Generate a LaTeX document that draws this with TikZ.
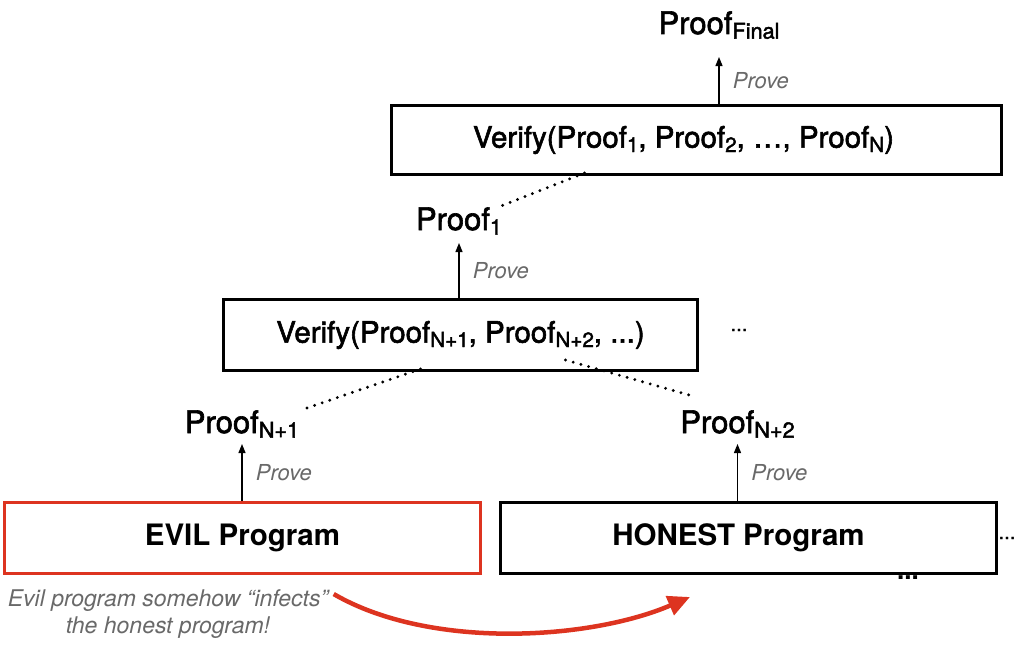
\documentclass[tikz,border=0pt]{standalone}
\usepackage{fontspec}
\setmainfont{TeX Gyre Heros}
\newfontfamily\medfont[FakeBold=2]{TeX Gyre Heros}
\usetikzlibrary{arrows.meta,positioning}
\definecolor{evilred}{RGB}{221,52,32}
\definecolor{notegray}{RGB}{105,105,105}
\newcommand{\idx}[1]{\raisebox{-0.15em}{\scalebox{0.7}{#1}}}

\begin{document}
\begin{tikzpicture}[x=1pt,y=-1pt,
	proof/.style={anchor=base, font=\fontsize{31}{36}\medfont},
	verify/.style={draw, line width=3pt, inner sep=0pt, font=\fontsize{29.5}{34}\medfont},
	program/.style={draw, line width=3pt, inner sep=0pt, minimum height=71pt, font=\fontsize{29.5}{34}\selectfont\bfseries},
	prove/.style={-{Triangle[length=9pt,width=7pt]}, line width=1.2pt},
	provelbl/.style={right=10pt, font=\fontsize{22}{26}\selectfont\itshape, text=notegray},
	link/.style={line width=3.2pt, dash pattern=on 0pt off 8pt, line cap=round},
	more/.style={font=\fontsize{20}{24}\medfont}]
	\useasboundingbox (0,0) rectangle (1023,645);

	% boxes
	\node[verify, minimum width=610pt, minimum height=69pt] (vtop) at (696.5,140)
		{\hspace*{-26pt}Verify(Proof\idx{1}, Proof\idx{2}, \dots, Proof\idx{N})};
	\node[verify, minimum width=474pt, minimum height=71pt] (vmid) at (460.5,335)
		{Verify(Proof\idx{N+1}, Proof\idx{N+2}, ...)};
	\node[program, draw=evilred, minimum width=476pt] (evil) at (242.5,538) {EVIL Program};
	\node[program, minimum width=496pt] (honest) at (748.5,538) {\hspace*{-20pt}HONEST Program};

	% proofs
	\node[proof] (pfinal) at (719,34)  {Proof\idx{Final}};
	\node[proof] (proof1) at (459,230) {Proof\idx{1}};
	\node[proof] (pn1)    at (242,433) {Proof\idx{N+1}};
	\node[proof] (pn2)    at (737.5,433) {Proof\idx{N+2}};

	% dots
	\node[more] (more1) at (739,330) {...};
	\node[more] (more2) at (1007,538) {...};
	\node[more, font=\fontsize{26}{30}\selectfont\bfseries] (more3) at (908,578) {...};

	% prove arrows
	\draw[prove] (vtop.north -| pfinal) -- ++(0,-47) node[midway, provelbl] {Prove};
	\draw[prove] (vmid.north -| proof1) -- ++(0,-55) node[midway, provelbl] {Prove};
	\draw[prove] (evil.north -| pn1) -- ++(0,-57) node[midway, provelbl] {Prove};
	\draw[prove] (honest.north -| pn2) -- ++(0,-57) node[midway, provelbl] {Prove};

	% links
	\draw[link] ([xshift=-112pt, yshift=3pt]vtop.south) -- ([xshift=-4pt, yshift=-2pt]proof1.north east);
	\draw[link] ([xshift=-40pt, yshift=3pt]vmid.south) -- ([xshift=2pt, yshift=-2pt]pn1.north east);
	\draw[link] ([xshift=105pt, yshift=12pt]vmid.south) -- ([xshift=-42pt, yshift=10pt]pn2.north);

	% infection
	\node[align=center, font=\fontsize{23}{27}\selectfont\itshape, text=notegray] (note) at (168,614)
		{Evil program somehow “infects”\\the honest program!};
	\coordinate (hit) at (690,597);
	\draw[evilred, line width=4.5pt, -{Triangle[length=22pt,width=20pt]}]
		([xshift=2pt, yshift=-8pt]note.north east) .. controls (430,650) and (590,640) .. (hit);
\end{tikzpicture}
\end{document}
